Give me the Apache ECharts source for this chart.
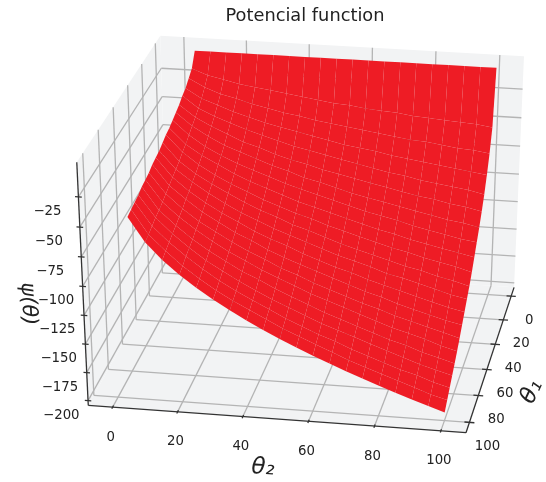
<!DOCTYPE html>
<html><head><meta charset="utf-8">
<script src="https://cdn.jsdelivr.net/npm/echarts@6/dist/echarts.min.js"></script>
<style>html,body{margin:0;padding:0;background:#fff}#c{width:546px;height:482px}</style></head>
<body><div id="c"></div>
<script>
const theta1Values=[0,5,10,15,20,25,30,35,40,45,50,55,60,65,70,75,80,85,90,95,100];
const theta2Values=[5,10,15,20,25,30,35,40,45,50,55,60,65,70,75,80,85,90,95,100];
const potential=[
[-1,-1,-1,-1,-1,-1,-1,-1,-1,-1,-1,-1,-1,-1,-1,-1,-1,-1,-1,-1],
[-12,-17,-20,-23,-25,-27,-29,-31,-33,-35,-36,-38,-39,-40,-42,-43,-44,-45,-46,-48],
[-16,-23,-28,-31,-35,-38,-41,-43,-46,-48,-50,-52,-54,-56,-58,-59,-61,-63,-64,-66],
[-20,-28,-33,-38,-42,-46,-49,-52,-55,-58,-61,-63,-65,-68,-70,-72,-74,-76,-78,-80],
[-22,-32,-38,-43,-48,-52,-56,-60,-63,-66,-69,-72,-75,-78,-80,-83,-85,-87,-89,-92],
[-25,-35,-42,-48,-54,-58,-63,-67,-70,-74,-77,-80,-83,-86,-89,-92,-94,-97,-99,-102],
[-27,-38,-46,-53,-58,-63,-68,-72,-77,-80,-84,-88,-91,-94,-97,-100,-103,-106,-108,-111],
[-29,-41,-50,-57,-63,-68,-73,-78,-82,-86,-90,-94,-98,-101,-104,-108,-111,-114,-117,-119],
[-31,-44,-53,-60,-67,-73,-78,-83,-88,-92,-96,-100,-104,-108,-111,-115,-118,-121,-124,-127],
[-32,-46,-56,-64,-71,-77,-83,-88,-93,-97,-102,-106,-110,-114,-118,-121,-125,-128,-131,-135],
[-34,-49,-59,-67,-74,-81,-87,-92,-98,-102,-107,-112,-116,-120,-124,-128,-131,-135,-138,-142],
[-36,-51,-61,-70,-78,-85,-91,-97,-102,-107,-112,-117,-121,-125,-130,-133,-137,-141,-145,-148],
[-37,-53,-64,-73,-81,-88,-95,-101,-106,-112,-117,-122,-126,-131,-135,-139,-143,-147,-151,-154],
[-38,-55,-66,-76,-84,-92,-98,-105,-111,-116,-121,-126,-131,-136,-140,-145,-149,-153,-157,-160],
[-40,-57,-69,-79,-87,-95,-102,-108,-115,-120,-126,-131,-136,-141,-145,-150,-154,-158,-162,-166],
[-41,-59,-71,-81,-90,-98,-105,-112,-118,-124,-130,-135,-140,-145,-150,-155,-159,-163,-168,-172],
[-42,-61,-73,-84,-93,-101,-109,-115,-122,-128,-134,-140,-145,-150,-155,-160,-164,-169,-173,-177],
[-44,-62,-75,-86,-96,-104,-112,-119,-126,-132,-138,-144,-149,-154,-159,-164,-169,-174,-178,-182],
[-45,-64,-77,-88,-98,-107,-115,-122,-129,-136,-142,-148,-153,-159,-164,-169,-174,-178,-183,-187],
[-46,-66,-79,-91,-101,-110,-118,-125,-132,-139,-145,-151,-157,-163,-168,-173,-178,-183,-188,-192],
[-47,-67.4,-81.4,-93,-103.2,-112.3,-120.7,-128.4,-135.7,-142.5,-149,-155.2,-161.1,-166.8,-172.2,-177.5,-182.6,-187.5,-192.3,-197]];
const theta1Ticks=[0,20,40,60,80,100];
const theta2Ticks=[0,20,40,60,80,100];
const zTicks=[-200,-175,-150,-125,-100,-75,-50,-25];
const margin=7.543;
const xr=[-margin,100+margin],yr=[-margin,100+margin],zr=[-204.25,3.34];
const view={elev:29.237,azim:9.947,dist:9.595,scale:376.18,bx:1.002,bz:0.962,cx:308.865,cy:228.633,asp:0.75};
const rad=Math.PI/180,ce=Math.cos(view.elev*rad),se=Math.sin(view.elev*rad),ca=Math.cos(view.azim*rad),sa=Math.sin(view.azim*rad);
function proj(x,y,z){
  const wx=((x-xr[0])/(xr[1]-xr[0])-.5)*view.bx, wy=(y-yr[0])/(yr[1]-yr[0])-.5, wz=((z-zr[0])/(zr[1]-zr[0])-.5)*view.bz;
  const xc=-sa*wx+ca*wy, yc=-se*ca*wx-se*sa*wy+ce*wz, zc=ce*ca*wx+ce*sa*wy+se*wz;
  const k=view.dist/(view.dist-zc);
  return [view.cx+view.scale*xc*k, view.cy-view.scale*view.asp*yc*k];
}
const [x0,x1]=xr,[y0,y1]=yr,[z0,z1]=zr;
const paneData=[
 [x0,y0,z0,x1,y0,z0,x1,y1,z0,x0,y1,z0],
 [x0,y0,z0,x0,y1,z0,x0,y1,z1,x0,y0,z1],
 [x0,y0,z0,x1,y0,z0,x1,y0,z1,x0,y0,z1]];
const gridData=[];
theta2Ticks.forEach(t=>{gridData.push([x0,t,z1,x0,t,z0],[x0,t,z0,x1,t,z0]);});
theta1Ticks.forEach(t=>{gridData.push([t,y0,z1,t,y0,z0],[t,y0,z0,t,y1,z0]);});
zTicks.forEach(t=>{gridData.push([x1,y0,t,x0,y0,t],[x0,y0,t,x0,y1,t]);});
const axisData=[[x1,y0,z0,x1,y1,z0],[x1,y1,z0,x0,y1,z0],[x1,y0,z0,x1,y0,z1]];
theta2Ticks.forEach(t=>axisData.push([x1+1.2,t,z0,x1-1.2,t,z0]));
theta1Ticks.forEach(t=>axisData.push([t,y1+1.5,z0,t,y1-1.5,z0]));
zTicks.forEach(t=>axisData.push([x1,y0-1,t,x1,y0+1,t]));
const cells=[];
for(let i=0;i<theta1Values.length-1;i++)for(let j=0;j<theta2Values.length-1;j++)
 cells.push([theta1Values[i],theta1Values[i+1],theta2Values[j],theta2Values[j+1],potential[i][j],potential[i][j+1],potential[i+1][j+1],potential[i+1][j]]);
const txt='"DejaVu Sans"';
const labelData=[];
theta2Ticks.forEach(t=>labelData.push([x1,t,z0,-2,30,String(t),'center']));
theta1Ticks.forEach(t=>labelData.push([t,y1,z0,18,24,String(t),'center']));
zTicks.forEach(t=>labelData.push([x1,y0,t,-45,14.5,'\u2212'+Math.abs(t),'left']));
const option={animation:false,backgroundColor:'#fff',
 title:{text:'Potencial function',left:300,top:2,textAlign:'center',textStyle:{fontFamily:txt,fontWeight:'normal',fontSize:17.8,color:'#222'}},
 graphic:[
  {type:'text',x:263,y:468,rotation:-3*rad,style:{text:'\u03B8\u2082',font:'italic 23px '+txt,fill:'#222',align:'center',verticalAlign:'middle'}},
  {type:'text',x:532,y:392,rotation:65*rad,style:{text:'\u03B8\u2081',font:'italic 23px '+txt,fill:'#222',align:'center',verticalAlign:'middle'}},
  {type:'text',x:28,y:304,rotation:-87*rad,style:{text:'\u03C8(\u03B8)',font:'italic 21px '+txt,fill:'#222',align:'center',verticalAlign:'middle'}}
 ],
 series:[
 {type:'custom',coordinateSystem:'none',silent:true,data:paneData,renderItem:(p,api)=>{
   const pts=[];for(let i=0;i<4;i++)pts.push(proj(api.value(i*3),api.value(i*3+1),api.value(i*3+2)));
   return {type:'polygon',shape:{points:pts},style:{fill:'#F2F3F4'}};}},
 {type:'custom',coordinateSystem:'none',silent:true,data:gridData,renderItem:(p,api)=>{
   const a=proj(api.value(0),api.value(1),api.value(2)),b=proj(api.value(3),api.value(4),api.value(5));
   return {type:'line',shape:{x1:a[0],y1:a[1],x2:b[0],y2:b[1]},style:{stroke:'#B4B4B4',lineWidth:1.3}};}},
 {type:'custom',coordinateSystem:'none',silent:true,data:axisData,renderItem:(p,api)=>{
   const a=proj(api.value(0),api.value(1),api.value(2)),b=proj(api.value(3),api.value(4),api.value(5));
   return {type:'line',shape:{x1:a[0],y1:a[1],x2:b[0],y2:b[1]},style:{stroke:'#333',lineWidth:1.3}};}},
 {type:'custom',coordinateSystem:'none',silent:true,data:cells,renderItem:(p,api)=>{
   const a=api.value(0),b=api.value(1),c=api.value(2),d=api.value(3);
   return {type:'polygon',shape:{points:[proj(a,c,api.value(4)),proj(a,d,api.value(5)),proj(b,d,api.value(6)),proj(b,c,api.value(7))]},style:{fill:'#EE1C25'}};}},
 {type:'custom',coordinateSystem:'none',silent:true,data:labelData.map((d,i)=>({value:[d[0],d[1],d[2],d[3],d[4],i]})),renderItem:(p,api)=>{
   const d=labelData[api.value(5)],q=proj(api.value(0),api.value(1),api.value(2));
   return {type:'text',x:q[0]+api.value(3),y:q[1]+api.value(4),style:{text:d[5],font:'13.3px '+txt,fill:'#222',align:d[6],verticalAlign:'middle'}};}}
 ]};
echarts.init(document.getElementById('c'),null,{renderer:'canvas'}).setOption(option);
</script></body></html>
